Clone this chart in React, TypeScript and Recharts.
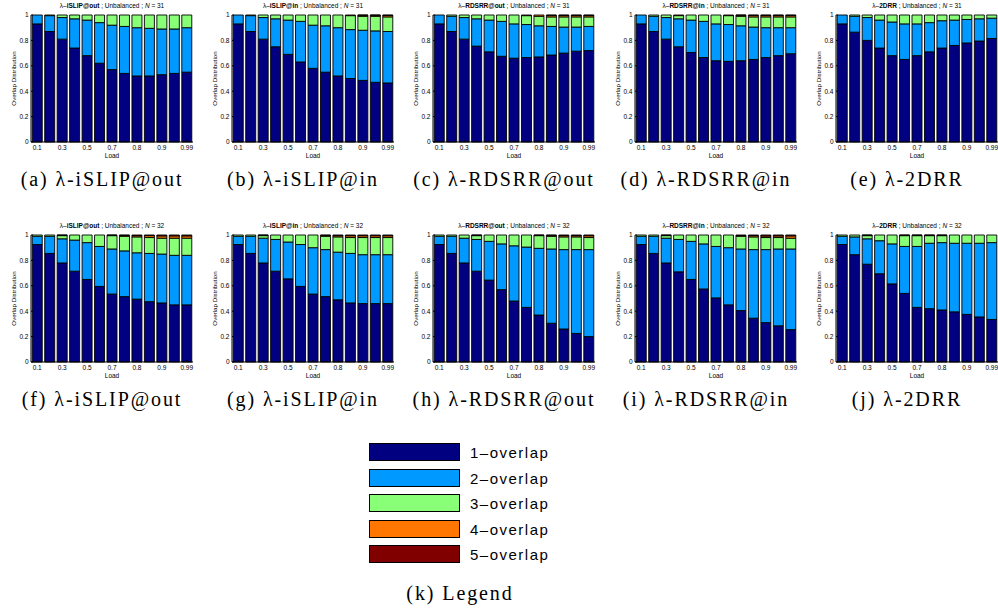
import { BarChart, Bar, XAxis, YAxis } from 'recharts';

// loads on the x axis (13 bars, every other one labelled)
const loads = ['0.1', '0.2', '0.3', '0.4', '0.5', '0.6', '0.7', '0.75', '0.8', '0.85', '0.9', '0.95', '0.99'];
const yTicks = [0, 0.2, 0.4, 0.6, 0.8, 1];

const overlapNames = ['1–overlap', '2–overlap', '3–overlap', '4–overlap', '5–overlap'];
const overlapColors = ['#000080', '#0099ff', '#88ff77', '#ff7700', '#800000'];
const overlapKeys = ['o1', 'o2', 'o3', 'o4', 'o5'];

// (a) iSLIP@out, N = 31
const aOne = [0.93, 0.87, 0.81, 0.74, 0.68, 0.62, 0.57, 0.54, 0.52, 0.52, 0.53, 0.54, 0.55];
const aTwo = [0.07, 0.125, 0.17, 0.23, 0.28, 0.32, 0.35, 0.37, 0.38, 0.375, 0.36, 0.35, 0.35];
const aThree = [0, 0.005, 0.02, 0.03, 0.04, 0.06, 0.08, 0.09, 0.1, 0.105, 0.11, 0.11, 0.1];
const aFour = [0, 0, 0, 0, 0, 0, 0, 0, 0, 0, 0, 0, 0];
const aFive = [0, 0, 0, 0, 0, 0, 0, 0, 0, 0, 0, 0, 0];

// (b) iSLIP@in, N = 31
const bOne = [0.93, 0.87, 0.81, 0.75, 0.69, 0.63, 0.58, 0.55, 0.52, 0.5, 0.485, 0.47, 0.465];
const bTwo = [0.07, 0.125, 0.17, 0.22, 0.27, 0.32, 0.34, 0.365, 0.38, 0.385, 0.395, 0.405, 0.405];
const bThree = [0, 0.005, 0.02, 0.03, 0.04, 0.05, 0.08, 0.085, 0.1, 0.11, 0.11, 0.115, 0.115];
const bFour = [0, 0, 0, 0, 0, 0, 0, 0, 0, 0.005, 0.008, 0.008, 0.012];
const bFive = [0, 0, 0, 0, 0, 0, 0, 0, 0, 0, 0.002, 0.002, 0.003];

// (c) RDSRR@out, N = 31
const cOne = [0.93, 0.87, 0.81, 0.755, 0.71, 0.675, 0.66, 0.665, 0.67, 0.685, 0.7, 0.715, 0.72];
const cTwo = [0.07, 0.12, 0.17, 0.215, 0.25, 0.275, 0.27, 0.26, 0.245, 0.225, 0.205, 0.19, 0.19];
const cThree = [0, 0.01, 0.02, 0.03, 0.04, 0.05, 0.07, 0.07, 0.075, 0.075, 0.08, 0.08, 0.075];
const cFour = [0, 0, 0, 0, 0, 0, 0, 0.005, 0.01, 0.012, 0.012, 0.012, 0.012];
const cFive = [0, 0, 0, 0, 0, 0, 0, 0, 0, 0.003, 0.003, 0.003, 0.003];

// (d) RDSRR@in, N = 31
const dOne = [0.93, 0.87, 0.81, 0.75, 0.705, 0.665, 0.64, 0.635, 0.64, 0.65, 0.665, 0.68, 0.695];
const dTwo = [0.07, 0.12, 0.17, 0.22, 0.255, 0.285, 0.29, 0.29, 0.275, 0.255, 0.235, 0.22, 0.205];
const dThree = [0, 0.01, 0.02, 0.025, 0.04, 0.05, 0.07, 0.07, 0.075, 0.08, 0.085, 0.085, 0.085];
const dFour = [0, 0, 0, 0.005, 0, 0, 0, 0.005, 0.008, 0.012, 0.012, 0.012, 0.012];
const dFive = [0, 0, 0, 0, 0, 0, 0, 0, 0.002, 0.003, 0.003, 0.003, 0.003];

// (e) 2DRR, N = 31
const eOne = [0.93, 0.865, 0.8, 0.74, 0.68, 0.65, 0.68, 0.71, 0.74, 0.76, 0.78, 0.795, 0.815];
const eTwo = [0.07, 0.125, 0.18, 0.22, 0.265, 0.28, 0.25, 0.23, 0.215, 0.2, 0.185, 0.175, 0.16];
const eThree = [0, 0.01, 0.02, 0.04, 0.055, 0.07, 0.07, 0.06, 0.045, 0.04, 0.035, 0.03, 0.025];
const eFour = [0, 0, 0, 0, 0, 0, 0, 0, 0, 0, 0, 0, 0];
const eFive = [0, 0, 0, 0, 0, 0, 0, 0, 0, 0, 0, 0, 0];

// (f) iSLIP@out, N = 32
const fOne = [0.925, 0.855, 0.78, 0.715, 0.65, 0.595, 0.535, 0.515, 0.495, 0.475, 0.465, 0.45, 0.45];
const fTwo = [0.065, 0.135, 0.19, 0.245, 0.29, 0.315, 0.355, 0.36, 0.365, 0.38, 0.385, 0.39, 0.39];
const fThree = [0.01, 0.01, 0.025, 0.04, 0.06, 0.09, 0.105, 0.115, 0.125, 0.125, 0.125, 0.135, 0.135];
const fFour = [0, 0, 0.003, 0, 0, 0, 0.003, 0.007, 0.01, 0.015, 0.018, 0.018, 0.018];
const fFive = [0, 0, 0.002, 0, 0, 0, 0.002, 0.003, 0.005, 0.005, 0.007, 0.007, 0.007];

// (g) iSLIP@in, N = 32
const gOne = [0.925, 0.855, 0.78, 0.715, 0.655, 0.595, 0.535, 0.515, 0.49, 0.465, 0.46, 0.46, 0.46];
const gTwo = [0.065, 0.135, 0.195, 0.25, 0.29, 0.33, 0.365, 0.37, 0.375, 0.39, 0.385, 0.385, 0.385];
const gThree = [0.01, 0.01, 0.02, 0.035, 0.055, 0.075, 0.1, 0.105, 0.12, 0.125, 0.135, 0.135, 0.135];
const gFour = [0, 0, 0.003, 0, 0, 0, 0, 0.007, 0.01, 0.014, 0.014, 0.014, 0.014];
const gFive = [0, 0, 0.002, 0, 0, 0, 0, 0.003, 0.005, 0.006, 0.006, 0.006, 0.006];

// (h) RDSRR@out, N = 32
const hOne = [0.925, 0.855, 0.78, 0.715, 0.645, 0.57, 0.48, 0.43, 0.37, 0.305, 0.26, 0.225, 0.2];
const hTwo = [0.065, 0.135, 0.195, 0.25, 0.305, 0.36, 0.435, 0.475, 0.525, 0.585, 0.625, 0.66, 0.685];
const hThree = [0.01, 0.01, 0.025, 0.03, 0.05, 0.07, 0.085, 0.095, 0.1, 0.1, 0.1, 0.1, 0.095];
const hFour = [0, 0, 0, 0.003, 0, 0, 0, 0, 0.003, 0.007, 0.01, 0.01, 0.014];
const hFive = [0, 0, 0, 0.002, 0, 0, 0, 0, 0.002, 0.003, 0.005, 0.005, 0.006];

// (i) RDSRR@in, N = 32
const iOne = [0.925, 0.855, 0.78, 0.71, 0.65, 0.575, 0.505, 0.45, 0.405, 0.345, 0.31, 0.285, 0.255];
const iTwo = [0.065, 0.135, 0.195, 0.255, 0.3, 0.355, 0.405, 0.45, 0.485, 0.54, 0.575, 0.605, 0.635];
const iThree = [0.01, 0.01, 0.02, 0.035, 0.05, 0.07, 0.09, 0.1, 0.1, 0.1, 0.095, 0.09, 0.085];
const iFour = [0, 0, 0.003, 0, 0, 0, 0, 0, 0.006, 0.01, 0.012, 0.013, 0.018];
const iFive = [0, 0, 0.002, 0, 0, 0, 0, 0, 0.004, 0.005, 0.008, 0.007, 0.007];

// (j) 2DRR, N = 32
const jOne = [0.925, 0.845, 0.77, 0.695, 0.615, 0.54, 0.43, 0.42, 0.41, 0.395, 0.375, 0.355, 0.335];
const jTwo = [0.065, 0.14, 0.2, 0.26, 0.315, 0.37, 0.48, 0.515, 0.53, 0.54, 0.56, 0.58, 0.605];
const jThree = [0.01, 0.015, 0.025, 0.045, 0.07, 0.085, 0.085, 0.06, 0.055, 0.065, 0.065, 0.065, 0.06];
const jFour = [0, 0, 0.003, 0, 0, 0.003, 0.003, 0.003, 0.003, 0, 0, 0, 0];
const jFive = [0, 0, 0.002, 0, 0, 0.002, 0.002, 0.002, 0.002, 0, 0, 0, 0];

const panels = [
  { tag: 'a', scheme: 'iSLIP@out', n: 31, series: [aOne, aTwo, aThree, aFour, aFive] },
  { tag: 'b', scheme: 'iSLIP@in', n: 31, series: [bOne, bTwo, bThree, bFour, bFive] },
  { tag: 'c', scheme: 'RDSRR@out', n: 31, series: [cOne, cTwo, cThree, cFour, cFive] },
  { tag: 'd', scheme: 'RDSRR@in', n: 31, series: [dOne, dTwo, dThree, dFour, dFive] },
  { tag: 'e', scheme: '2DRR', n: 31, series: [eOne, eTwo, eThree, eFour, eFive] },
  { tag: 'f', scheme: 'iSLIP@out', n: 32, series: [fOne, fTwo, fThree, fFour, fFive] },
  { tag: 'g', scheme: 'iSLIP@in', n: 32, series: [gOne, gTwo, gThree, gFour, gFive] },
  { tag: 'h', scheme: 'RDSRR@out', n: 32, series: [hOne, hTwo, hThree, hFour, hFive] },
  { tag: 'i', scheme: 'RDSRR@in', n: 32, series: [iOne, iTwo, iThree, iFour, iFive] },
  { tag: 'j', scheme: '2DRR', n: 32, series: [jOne, jTwo, jThree, jFour, jFive] },
];

const SANS = '"Liberation Sans", Arial, sans-serif';
const SERIF = '"Liberation Serif", "Times New Roman", serif';
const PANEL_STEP = 201.2;
const ROW_TOP = [0, 220];

function YLabel({ viewBox }: any) {
  const cx = viewBox.x + 13;
  const cy = viewBox.y + viewBox.height / 2;
  return (
    <text x={cx} y={cy} transform={`rotate(-90 ${cx} ${cy})`} textAnchor="middle" dominantBaseline="central"
      fontSize={6.2} fill="#000" fontFamily={SANS}>
      Overlap Distribution
    </text>
  );
}

function XLabel({ viewBox }: any) {
  return (
    <text x={viewBox.x + viewBox.width / 2} y={viewBox.y + 16} textAnchor="middle"
      fontSize={6.5} fill="#000" fontFamily={SANS}>
      Load
    </text>
  );
}

function OverlapPanel({ panel, left, top }: any) {
  const data = loads.map((load, i) => ({
    load,
    o1: panel.series[0][i],
    o2: panel.series[1][i],
    o3: panel.series[2][i],
    o4: panel.series[3][i],
    o5: panel.series[4][i],
  }));
  const axisStroke = { stroke: '#000', strokeWidth: 1 };

  return (
    <div style={{ position: 'absolute', left, top, width: 200, height: 164 }}>
      <div style={{ position: 'absolute', left: 0, top: 2, width: 224, textAlign: 'center', fontSize: 6.5,
        fontFamily: SANS, whiteSpace: 'nowrap', lineHeight: '8px' }}>
        λ–<b>{panel.scheme}</b> ; Unbalanced ; <i>N</i> = {panel.n}
      </div>
      <BarChart width={200} height={164} data={data} margin={{ top: 15, right: 7, left: 0, bottom: 0 }}
        barCategoryGap="10%" style={{ fontFamily: SANS }}>
        <XAxis dataKey="load" interval={1} height={22} tickSize={-2} tickMargin={5}
          tick={{ fontSize: 6.5, fill: '#000' }} axisLine={axisStroke} tickLine={axisStroke}
          label={<XLabel />} />
        <XAxis xAxisId="top" orientation="top" dataKey="load" interval={1} height={0} tickSize={-2}
          tickFormatter={() => ''} axisLine={axisStroke} tickLine={axisStroke} />
        <YAxis type="number" domain={[0, 1]} ticks={yTicks} width={31} tickSize={-2} tickMargin={4.5}
          tick={{ fontSize: 6.5, fill: '#000' }} axisLine={axisStroke} tickLine={axisStroke}
          label={<YLabel />} />
        <YAxis yAxisId="right" orientation="right" type="number" domain={[0, 1]} ticks={yTicks} width={0}
          tickSize={-2} tickFormatter={() => ''} axisLine={axisStroke} tickLine={axisStroke} />
        {overlapKeys.map((key, k) => (
          <Bar key={key} dataKey={key} stackId="s" fill={overlapColors[k]} stroke="#000" strokeWidth={0.9}
            isAnimationActive={false} />
        ))}
      </BarChart>
    </div>
  );
}

export default function App() {
  return (
    <div style={{ position: 'absolute', left: 0, top: 0, width: 998, height: 609, background: '#fff', overflow: 'hidden' }}>
      {panels.map((panel, idx) => {
        const col = idx % 5;
        const row = Math.floor(idx / 5);
        const left = Math.round(col * PANEL_STEP);
        const top = ROW_TOP[row];
        return (
          <div key={panel.tag}>
            <OverlapPanel panel={panel} left={left} top={top} />
            <div style={{ position: 'absolute', left: left - 20, width: 244, top: top + 168, textAlign: 'center',
              fontFamily: SERIF, fontSize: 20, letterSpacing: 1.9, lineHeight: '22px', whiteSpace: 'nowrap' }}>
              ({panel.tag}) λ-{panel.scheme}
            </div>
          </div>
        );
      })}

      {/* legend */}
      {overlapNames.map((name, k) => (
        <div key={name} style={{ position: 'absolute', left: 369, top: 443 + k * 25.6, height: 20 }}>
          <div style={{ position: 'absolute', left: 0, top: 0, width: 89, height: 16, border: '1px solid #000',
            background: overlapColors[k] }} />
          <div style={{ position: 'absolute', left: 101, top: 0, fontFamily: SANS, fontSize: 15,
            letterSpacing: 1.5, lineHeight: '20px', whiteSpace: 'nowrap' }}>
            {name}
          </div>
        </div>
      ))}
      <div style={{ position: 'absolute', left: 360, width: 200, top: 582, textAlign: 'center', fontFamily: SERIF,
        fontSize: 20, letterSpacing: 1.9, lineHeight: '22px' }}>
        (k) Legend
      </div>
    </div>
  );
}
